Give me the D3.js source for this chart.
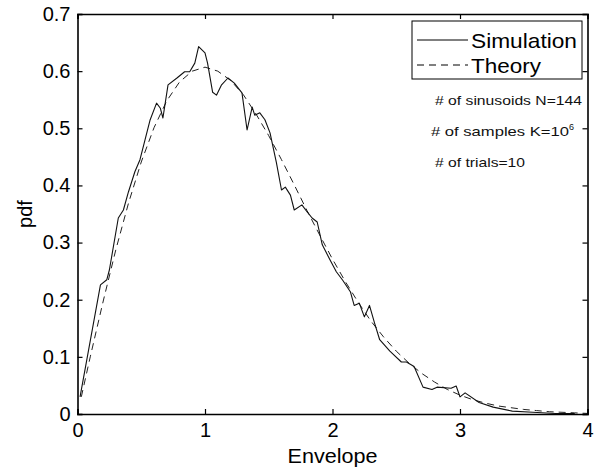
<!DOCTYPE html>
<html>
<head>
<meta charset="utf-8">
<script src="https://cdn.jsdelivr.net/npm/d3@7"></script>
<style>
  html, body { margin: 0; padding: 0; background: #fff; }
  svg { display: block; font-family: "Liberation Sans", Arial, Helvetica, sans-serif; }
</style>
</head>
<body>
<svg id="chart" width="597" height="467"></svg>
<script>
// ---- data ----
const simX = [0.02,0.18,0.23,0.25,0.32,0.36,0.40,0.45,0.49,0.53,0.57,0.62,0.65,0.67,0.71,0.78,0.84,0.88,0.92,0.95,
  1.00,1.02,1.06,1.09,1.13,1.18,1.23,1.29,1.33,1.37,1.39,1.43,1.47,1.51,1.56,1.60,1.63,1.67,1.70,1.76,
  1.80,1.84,1.88,1.92,1.98,2.03,2.08,2.14,2.17,2.21,2.25,2.29,2.33,2.37,2.45,2.54,2.58,2.64,2.71,2.78,
  2.82,2.93,2.97,3.00,3.04,3.15,3.26,3.41,3.57,3.75,3.90];
const simY = [0.030,0.226,0.235,0.252,0.343,0.357,0.389,0.424,0.445,0.480,0.515,0.544,0.535,0.518,0.576,0.588,0.599,0.599,0.614,0.643,
  0.632,0.614,0.563,0.558,0.576,0.588,0.579,0.562,0.497,0.537,0.523,0.527,0.515,0.492,0.440,0.392,0.397,0.383,0.357,0.366,
  0.354,0.343,0.336,0.296,0.270,0.249,0.234,0.214,0.190,0.194,0.170,0.190,0.159,0.130,0.110,0.091,0.091,0.083,0.047,0.043,
  0.047,0.045,0.049,0.030,0.037,0.020,0.012,0.005,0.003,0.001,0.001];

const theoryX = [0.03,0.1,0.2,0.3,0.4,0.5,0.6,0.7,0.8,0.9,1.0,1.1,1.2,1.3,1.4,1.5,1.6,1.7,1.8,1.9,2.0,
  2.1,2.2,2.3,2.4,2.5,2.6,2.7,2.8,2.9,3.0,3.1,3.2,3.3,3.4,3.5,3.6,3.7,3.8,3.9,4.0];
const theoryY = [0.030,0.100,0.196,0.287,0.369,0.441,0.501,0.548,0.581,0.600,0.607,0.600,0.584,0.559,0.525,0.487,0.445,0.401,0.356,0.313,0.271,
  0.232,0.196,0.163,0.135,0.110,0.089,0.071,0.056,0.043,0.033,0.025,0.019,0.014,0.011,0.008,0.006,0.004,0.003,0.002,0.001];

const xTicks = [0,1,2,3,4];
const yTicks = [0,0.1,0.2,0.3,0.4,0.5,0.6,0.7];
const seriesNames = ["Simulation","Theory"];
const notes = ["# of sinusoids N=144","# of samples K=10","# of trials=10"];

// ---- layout ----
const L = 77.5, R = 587.5, T = 14, B = 414;
const svg = d3.select("#chart");
const x = d3.scaleLinear().domain([0,4]).range([L,R]);
const y = d3.scaleLinear().domain([0,0.7]).range([B,T]);

// curves
const line = d3.line().x(d => x(d[0])).y(d => y(d[1]));
svg.append("path")
  .datum(theoryX.map((v,i) => [v, theoryY[i]]))
  .attr("d", line).attr("fill","none").attr("stroke","#222")
  .attr("stroke-width",1).attr("stroke-dasharray","7,5");
svg.append("path")
  .datum(simX.map((v,i) => [v, simY[i]]))
  .attr("d", line).attr("fill","none").attr("stroke","#111")
  .attr("stroke-width",1.1).attr("stroke-linejoin","round");

// axes (MATLAB style box with inward ticks)
const fmt = d3.format("");
const axB = svg.append("g").attr("transform",`translate(0,${B})`)
  .call(d3.axisBottom(x).tickValues(xTicks).tickSize(-5).tickPadding(9).tickFormat(fmt));
const axT = svg.append("g").attr("transform",`translate(0,${T})`)
  .call(d3.axisTop(x).tickValues(xTicks).tickSize(-5).tickFormat(""));
const axL = svg.append("g").attr("transform",`translate(${L},0)`)
  .call(d3.axisLeft(y).tickValues(yTicks).tickSize(-5).tickPadding(7).tickFormat(d => d === 0 ? "0" : d3.format(".1f")(d)));
const axR = svg.append("g").attr("transform",`translate(${R},0)`)
  .call(d3.axisRight(y).tickValues(yTicks).tickSize(-5).tickFormat(""));
[axB,axT,axL,axR].forEach(g => {
  g.select(".domain").attr("stroke","#000").attr("stroke-width",1.6);
  g.selectAll(".tick line").attr("stroke","#000").attr("stroke-width",1.2);
  g.selectAll("text").attr("fill","#000").attr("font-size",20)
   .attr("font-family",'"Liberation Sans", Arial, sans-serif');
});
axB.selectAll(".tick text").attr("dy","0.7em");

// axis titles
svg.append("text").attr("x",(L+R)/2).attr("y",463).attr("text-anchor","middle")
  .attr("font-size",20).attr("textLength",90).attr("lengthAdjust","spacingAndGlyphs").text("Envelope");
svg.append("text").attr("transform",`translate(32,${(T+B)/2}) rotate(-90)`)
  .attr("text-anchor","middle").attr("font-size",20).text("pdf");

// legend
const lg = svg.append("g");
lg.append("rect").attr("x",412).attr("y",21).attr("width",170).attr("height",58)
  .attr("fill","#fff").attr("stroke","#000").attr("stroke-width",1);
const legDash = [null, "7,5"];
const legLen = [106, 70];
seriesNames.forEach((n,i) => {
  const yy = 40 + i*25;
  lg.append("line").attr("x1",417).attr("x2",468).attr("y1",yy).attr("y2",yy)
    .attr("stroke","#000").attr("stroke-width",1).attr("stroke-dasharray",legDash[i]);
  lg.append("text").attr("x",471).attr("y",yy+8).attr("font-size",21)
    .attr("textLength",legLen[i]).attr("lengthAdjust","spacingAndGlyphs").text(n);
});

// annotations
const noteX = [435, 431, 435];
const noteY = [105, 136, 167];
const noteLen = [147, 138, 90];
notes.forEach((t,i) => {
  const tx = svg.append("text").attr("x",noteX[i]).attr("y",noteY[i])
    .attr("font-size",13).attr("fill","#111");
  tx.append("tspan").attr("textLength",noteLen[i]).attr("lengthAdjust","spacingAndGlyphs").text(t);
  if (i === 1) {
    tx.append("tspan").attr("dy",-6).attr("font-size",9).text("6");
  }
});
</script>
</body>
</html>
